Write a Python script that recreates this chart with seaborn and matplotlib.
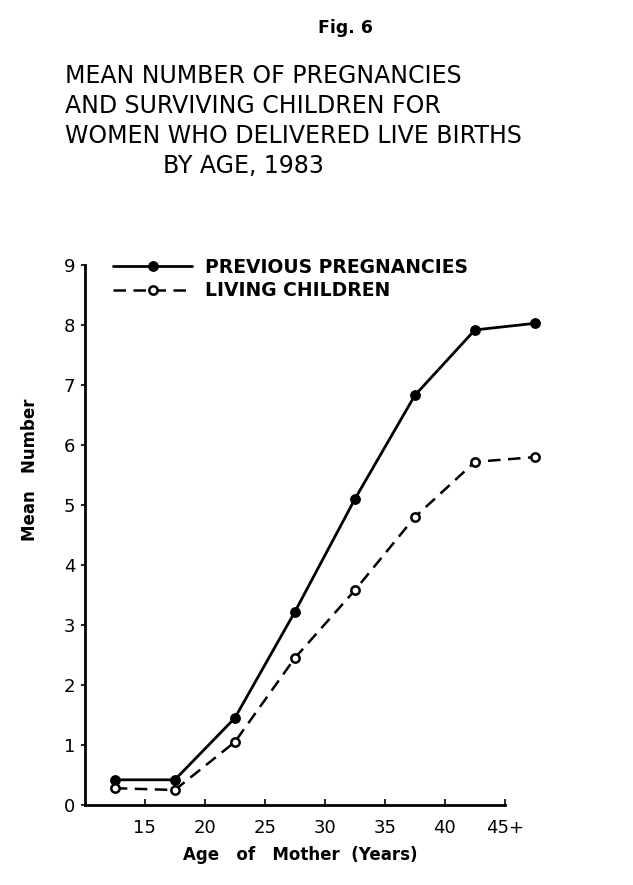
import pandas as pd
import matplotlib
matplotlib.use("Agg")
import matplotlib.pyplot as plt
import seaborn as sns

# age group midpoints (10-14, 15-19, ..., 45+)
age_mid = [12.5, 17.5, 22.5, 27.5, 32.5, 37.5, 42.5, 47.5]
previous_pregnancies = [0.42, 0.42, 1.45, 3.22, 5.1, 6.83, 7.92, 8.03]
living_children = [0.28, 0.25, 1.05, 2.45, 3.58, 4.8, 5.72, 5.8]

x_ticks = [15, 20, 25, 30, 35, 40, 45]
x_tick_labels = ["15", "20", "25", "30", "35", "40", "45+"]
y_ticks = list(range(10))

title_lines = ["MEAN NUMBER OF PREGNANCIES",
               "AND SURVIVING CHILDREN FOR",
               "WOMEN WHO DELIVERED LIVE BIRTHS",
               "BY AGE, 1983"]

df = pd.DataFrame({"age": age_mid,
                   "PREVIOUS PREGNANCIES": previous_pregnancies,
                   "LIVING CHILDREN": living_children})

sns.set_style("ticks", {"axes.edgecolor": "black", "text.color": "black",
                        "xtick.color": "black", "ytick.color": "black",
                        "axes.labelcolor": "black"})
plt.rcParams["font.family"] = ["DejaVu Sans"]

fig = plt.figure(figsize=(6.33, 8.85), dpi=100)
ax = fig.add_axes([0.134, 0.0904, 0.73, 0.610])

sns.lineplot(data=df, x="age", y="PREVIOUS PREGNANCIES", ax=ax, color="black",
             linewidth=2, marker="o", markersize=7, markerfacecolor="black",
             markeredgecolor="black", label="PREVIOUS PREGNANCIES")
sns.lineplot(data=df, x="age", y="LIVING CHILDREN", ax=ax, color="black",
             linewidth=1.8, linestyle=(0, (5, 3)), marker="o", markersize=6,
             markerfacecolor="white", markeredgecolor="black",
             markeredgewidth=1.8, label="LIVING CHILDREN")

ax.set_xlim(10, 48.5)
ax.set_ylim(0, 9)
ax.spines["bottom"].set_bounds(10, 45)
ax.spines["left"].set_linewidth(2)
ax.spines["bottom"].set_linewidth(2)
sns.despine(ax=ax)

ax.set_xticks(x_ticks)
ax.set_xticklabels(x_tick_labels, fontsize=13)
ax.set_yticks(y_ticks)
ax.set_yticklabels([str(v) for v in y_ticks], fontsize=13)
ax.tick_params(axis="x", direction="in", length=4, width=1.2, pad=10)
ax.tick_params(axis="y", direction="out", length=3, width=1.2, pad=4)
ax.set_xlabel("")
ax.set_ylabel("")

leg = ax.legend(loc="upper left", bbox_to_anchor=(0.025, 1.045), frameon=False,
                handlelength=4.2, handletextpad=0.7, labelspacing=0.25,
                prop={"weight": "bold", "size": 13.5})

fig.text(345 / 633, 1 - 28 / 885, "Fig. 6", ha="center", va="center",
         fontsize=12.5, fontweight="bold")
line_y = [76, 106, 136, 166]
line_x = [65, 65, 65, 163]
for txt, yy, xx in zip(title_lines, line_y, line_x):
    fig.text(xx / 633, 1 - yy / 885, txt, ha="left", va="center", fontsize=17)

fig.text(30 / 633, 1 - 470 / 885, "Mean   Number", rotation=90, ha="center",
         va="center", fontsize=12, fontweight="bold")
fig.text(300 / 633, 1 - 855 / 885, "Age   of   Mother  (Years)", ha="center",
         va="center", fontsize=12, fontweight="bold")

fig.savefig("out.png", dpi=100)
